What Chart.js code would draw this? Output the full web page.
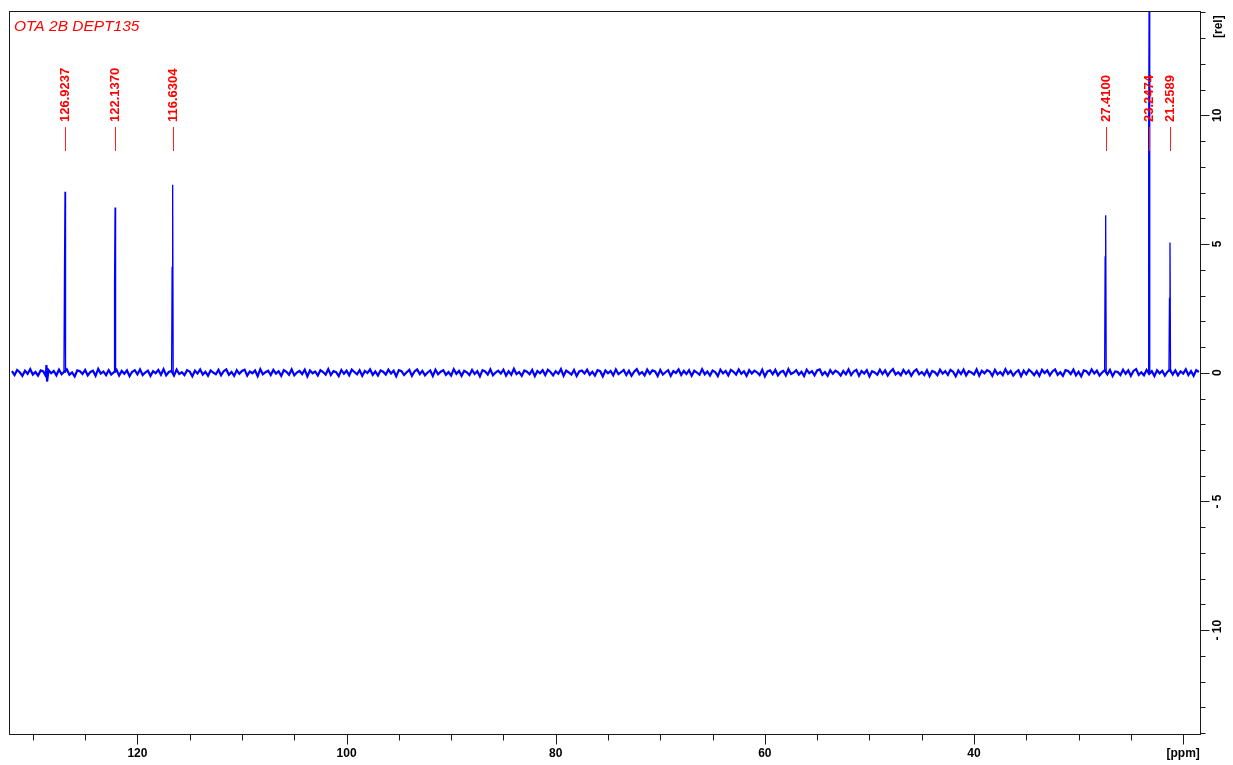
<!DOCTYPE html>
<html><head><meta charset="utf-8">
<script src="https://cdn.jsdelivr.net/npm/chart.js@4.4.1/dist/chart.umd.min.js"></script>
<style>html,body{margin:0;padding:0;background:#fff;overflow:hidden}#wrap{width:1233px;height:765px;position:relative}</style>
</head><body><div id="wrap"><canvas id="c" width="1233" height="765"></canvas></div>
<script>
const spectrumTitle = 'OTA 2B DEPT135';
const xUnitLabel = '[ppm]';
const yUnitLabel = '[rel]';
// peaks (ppm), apex height, shoulder height (rel)
const peakPositions = [126.9237, 122.1370, 116.6304, 27.4100, 23.2474, 21.2589];
const peakHeights   = [7.03, 6.42, 7.30, 6.12, 15.5, 5.06];
const peakShoulders = [3.96, 3.42, 4.09, 4.50, 9.28, 2.89];
const peakLabels    = ['126.9237', '122.1370', '116.6304', '27.4100', '23.2474', '21.2589'];
// small artefact near 128.7 ppm
const artefactPpm   = [128.70, 128.64];
const artefactVals  = [0.30, -0.34];
// baseline noise, sampled every 0.25 ppm from 132.0 to 18.5 ppm
const noiseStartPpm = 132.0;
const noiseStepPpm  = 0.25;
const noiseValues = [
0.06,-0.09,0.11,0.02,-0.12,0.08,-0.04,0.14,-0.07,0.03,-0.11,0.09,0.05,-0.13,0.1,-0.02,0.07,-0.1,0.12,-0.06,
0.04,0.13,-0.08,0.01,-0.14,0.09,0.06,-0.05,0.11,-0.1,0.03,0.08,-0.12,0.15,-0.03,0.05,-0.09,0.1,-0.07,0.02,
0.12,-0.11,0.07,-0.04,0.09,-0.13,0.04,0.1,-0.06,0.13,-0.09,0.01,0.08,-0.12,0.06,-0.02,0.11,-0.08,0.14,-0.1,
0.03,0.07,-0.11,0.12,-0.05,0.02,-0.09,0.1,0.05,-0.14,0.08,-0.03,0.13,-0.07,0.04,-0.12,0.09,0.01,-0.06,0.11,
-0.1,0.06,0.13,-0.08,0.03,-0.12,0.1,-0.04,0.07,0.12,-0.11,0.05,-0.02,0.09,-0.13,0.14,-0.06,0.02,0.08,-0.09,
0.11,-0.03,0.06,-0.12,0.1,0.04,-0.08,0.13,-0.1,0.01,0.07,-0.05,0.12,-0.14,0.09,-0.02,0.05,-0.11,0.1,0.03,
-0.07,0.14,-0.09,0.06,0.02,-0.13,0.11,-0.04,0.08,-0.1,0.12,0.03,-0.06,0.1,-0.12,0.07,-0.01,0.13,-0.08,0.05,
-0.11,0.09,0.04,-0.07,0.12,-0.03,0.08,-0.14,0.1,0.06,-0.09,0.02,0.11,-0.12,0.05,0.13,-0.05,0.07,-0.1,0.01,
0.09,-0.13,0.12,-0.06,0.04,0.1,-0.08,0.03,-0.11,0.14,-0.04,0.07,-0.12,0.08,0.02,-0.09,0.11,-0.05,0.06,-0.14,
0.1,0.05,-0.07,0.13,-0.1,0.01,0.08,-0.03,0.12,-0.11,0.06,-0.08,0.15,-0.05,0.03,-0.12,0.09,0.04,-0.06,0.11,
-0.13,0.07,-0.02,0.1,-0.09,0.12,0.03,-0.1,0.06,-0.04,0.14,-0.12,0.08,0.01,-0.07,0.11,-0.13,0.05,0.09,-0.03,
0.12,-0.08,0.04,-0.11,0.1,0.06,-0.14,0.09,-0.02,0.07,-0.1,0.13,-0.05,0.02,0.11,-0.09,0.08,-0.12,0.04,0.14,
-0.06,0.03,-0.1,0.12,-0.04,0.09,0.05,-0.13,0.11,-0.07,0.02,0.1,-0.12,0.06,-0.01,0.13,-0.09,0.07,-0.05,0.1,
-0.12,0.08,0.01,-0.08,0.14,-0.06,0.05,-0.11,0.09,0.03,-0.13,0.12,-0.02,0.07,-0.1,0.11,0.04,-0.07,0.13,-0.04,
0.06,-0.12,0.1,-0.03,0.08,0.02,-0.09,0.12,-0.14,0.05,0.09,-0.06,0.11,-0.1,0.03,0.07,-0.11,0.14,-0.05,0.01,
0.1,-0.07,0.04,-0.13,0.12,-0.02,0.06,-0.1,0.09,0.13,-0.08,0.03,-0.12,0.1,-0.04,0.08,0.02,-0.11,0.07,-0.06,
0.13,-0.09,0.05,0.11,-0.12,0.07,-0.03,0.1,-0.14,0.06,0.01,-0.08,0.12,-0.05,0.09,-0.11,0.04,0.14,-0.07,0.02,
-0.1,0.11,-0.04,0.08,-0.12,0.05,0.13,-0.06,0.03,-0.09,0.1,-0.13,0.07,0.02,-0.1,0.12,-0.03,0.06,-0.08,0.11,
0.04,-0.14,0.09,-0.05,0.12,-0.1,0.06,0.01,-0.07,0.13,-0.11,0.08,-0.02,0.1,0.05,-0.12,0.11,-0.06,0.03,-0.09,
0.14,-0.04,0.07,-0.11,0.02,0.1,-0.13,0.08,-0.06,0.12,0.03,-0.09,0.06,-0.12,0.11,-0.01,0.09,-0.1,0.05,0.13,
-0.08,0.02,-0.12,0.1,0.07,-0.05,0.12,-0.1,0.04,-0.14,0.09,0.06,-0.07,0.13,-0.03,0.08,-0.11,0.01,0.1,-0.06,
0.11,-0.13,0.05,0.03,-0.09,0.12,-0.04,0.09,-0.12,0.07,0.14,-0.08,0.02,-0.1,0.11,-0.05,0.06,-0.13,0.1,-0.02,
0.08,-0.11,0.04,0.12,-0.07,0.09,-0.1,0.05,-0.03,0.13,-0.09,0.06,-0.12,0.1,0.03
];
// axis ticks
const xTickValues = [120, 100, 80, 60, 40, 20];
const xTickLabels = ['120', '100', '80', '60', '40', xUnitLabel];
const yTickValues = [10, 5, 0, -5, -10];
const yTickLabels = ['10', '5', '0', '- 5', '- 10'];
const xRange = [18.39, 132.28];
const yRange = [-14.03, 14.05];

// baseline points
const basePts = [];
noiseValues.forEach((v, i) => basePts.push({x: noiseStartPpm - i * noiseStepPpm, y: v}));
artefactPpm.forEach((p, i) => basePts.push({x: p, y: artefactVals[i]}));
basePts.sort((a, b) => b.x - a.x);
// peak points (separate strokes)
const peakPts = [];
peakPositions.forEach((p, i) => {
  peakPts.push({x: p + 0.10, y: 0.05});
  peakPts.push({x: p + 0.05, y: peakShoulders[i]});
  peakPts.push({x: p, y: peakHeights[i]});
  peakPts.push({x: p - 0.05, y: 0.0});
  peakPts.push({x: p - 0.06, y: null});
});

const FONT = "'Liberation Sans', Arial, sans-serif";

const decor = {
  id: 'decor',
  afterDraw(chart) {
    const {ctx, chartArea: a, scales: {x, y}} = chart;
    ctx.save();
    ctx.strokeStyle = '#1a1a1a';
    ctx.lineWidth = 1;
    const L = Math.round(a.left), T = Math.round(a.top), R = Math.round(a.right), B = Math.round(a.bottom);
    ctx.strokeRect(L + 0.5, T + 0.5, R - L, B - T);
    ctx.beginPath();
    x.ticks.forEach(t => {
      const px = Math.round(x.getPixelForValue(t.value)) + 0.5;
      const len = (Math.round(t.value) % 20 === 0) ? 10 : 6;
      ctx.moveTo(px, B + 0.5); ctx.lineTo(px, B + 0.5 + len);
    });
    y.ticks.forEach(t => {
      const py = Math.round(y.getPixelForValue(t.value)) + 0.5;
      const len = (Math.round(t.value) % 5 === 0) ? 9 : 5;
      ctx.moveTo(R + 0.5, py); ctx.lineTo(R + 0.5 + len, py);
    });
    ctx.stroke();
    // y labels rotated
    ctx.fillStyle = '#000';
    ctx.font = 'bold 12px ' + FONT;
    ctx.textBaseline = 'middle';
    ctx.textAlign = 'center';
    yTickValues.forEach((v, i) => {
      const py = y.getPixelForValue(v);
      ctx.save(); ctx.translate(1218, py); ctx.rotate(-Math.PI / 2);
      ctx.fillText(yTickLabels[i], 0, 0); ctx.restore();
    });
    ctx.save(); ctx.translate(1219, 38); ctx.rotate(-Math.PI / 2);
    ctx.textAlign = 'left'; ctx.fillText(yUnitLabel, 0, 0); ctx.restore();
    // title
    ctx.fillStyle = '#ff0000';
    ctx.font = 'italic 15.5px ' + FONT;
    ctx.textAlign = 'left'; ctx.textBaseline = 'alphabetic';
    ctx.fillText(spectrumTitle, 14, 31);
    // peak labels
    ctx.font = 'bold 13px ' + FONT;
    ctx.textBaseline = 'middle';
    peakPositions.forEach((p, i) => {
      const px = Math.round(x.getPixelForValue(p));
      ctx.fillStyle = '#ff2020';
      ctx.fillRect(px, 127, 1, 24);
      ctx.fillStyle = '#ff0000';
      ctx.save(); ctx.translate(px + 0.5, 122); ctx.rotate(-Math.PI / 2);
      ctx.textAlign = 'left'; ctx.fillText(peakLabels[i], 0, 0); ctx.restore();
    });
    ctx.restore();
  }
};

new Chart(document.getElementById('c'), {
  type: 'line',
  data: { datasets: [
    { data: basePts, borderColor: '#0000ff', borderWidth: 2.2, pointRadius: 0, tension: 0, fill: false, spanGaps: false },
    { data: peakPts, borderColor: '#0000ff', borderWidth: 1.3, pointRadius: 0, tension: 0, fill: false, spanGaps: false }
  ] },
  options: {
    responsive: false, animation: false, devicePixelRatio: 1,
    layout: { padding: { left: 9, top: 11, right: 0, bottom: 0 } },
    plugins: { legend: { display: false }, tooltip: { enabled: false } },
    scales: {
      x: {
        type: 'linear', reverse: true, min: xRange[0], max: xRange[1],
        afterFit: s => { s.height = 31; },
        border: { display: false },
        grid: { display: true, drawOnChartArea: false, drawTicks: true, tickLength: 10, color: 'rgba(0,0,0,0)' },
        ticks: {
          stepSize: 5, includeBounds: false, autoSkip: false, maxRotation: 0, minRotation: 0, padding: 2,
          color: '#000', font: { family: FONT, size: 12, weight: 'bold' },
          callback: v => { const i = xTickValues.findIndex(t => Math.abs(t - v) < 1e-6); return i >= 0 ? xTickLabels[i] : ''; }
        }
      },
      y: {
        type: 'linear', position: 'right', min: yRange[0], max: yRange[1],
        afterFit: s => { s.width = 33; },
        border: { display: false },
        grid: { display: false },
        ticks: { display: false, stepSize: 1, includeBounds: false }
      }
    }
  },
  plugins: [decor]
});
</script>
</body></html>
